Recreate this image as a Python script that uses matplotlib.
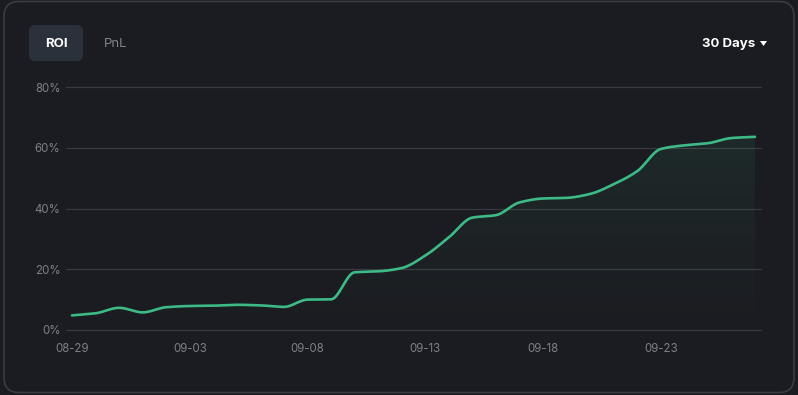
import matplotlib
matplotlib.use("Agg")
import matplotlib.pyplot as plt
from matplotlib.patches import FancyBboxPatch, Polygon
import numpy as np

plt.rcParams['font.family'] = ['Inter', 'DejaVu Sans']

# data (ROI %, one value per day)
dates = ['08-29', '08-30', '08-31', '09-01', '09-02', '09-03', '09-04', '09-05', '09-06', '09-07',
         '09-08', '09-09', '09-10', '09-11', '09-12', '09-13', '09-14', '09-15', '09-16', '09-17',
         '09-18', '09-19', '09-20', '09-21', '09-22', '09-23', '09-24', '09-25', '09-26', '09-27']
roi = [4.8, 5.5, 7.3, 5.8, 7.5, 7.9, 8.0, 8.3, 8.1, 7.6,
       10.0, 10.1, 19.0, 19.3, 20.4, 24.5, 30.5, 37.0, 37.8, 42.0,
       43.3, 43.5, 44.8, 48.0, 52.3, 59.6, 60.8, 61.5, 63.2, 63.6]
yticks = [0, 20, 40, 60, 80]
xtick_every = 5

BG = '#1b1c21'
LINE = '#3dba86'
GRID = '#383a41'
TICK = '#7c7f89'


def monotone(x, y, n=20):
    # monotone cubic (Fritsch-Carlson), like the smooth curve of the web chart
    x = np.asarray(x, float)
    y = np.asarray(y, float)
    h = np.diff(x)
    d = np.diff(y) / h
    m = np.zeros_like(y)
    m[0], m[-1] = d[0], d[-1]
    for i in range(1, len(y) - 1):
        if d[i - 1] * d[i] > 0:
            w1 = 2 * h[i] + h[i - 1]
            w2 = h[i] + 2 * h[i - 1]
            m[i] = (w1 + w2) / (w1 / d[i - 1] + w2 / d[i])
    xs, ys = [], []
    t = np.linspace(0, 1, n, endpoint=False)
    h00 = 2 * t**3 - 3 * t**2 + 1
    h10 = t**3 - 2 * t**2 + t
    h01 = -2 * t**3 + 3 * t**2
    h11 = t**3 - t**2
    for i in range(len(x) - 1):
        xs.append(x[i] + t * h[i])
        ys.append(h00 * y[i] + h10 * h[i] * m[i] + h01 * y[i + 1] + h11 * h[i] * m[i + 1])
    xs.append([x[-1]])
    ys.append([y[-1]])
    return np.concatenate(xs), np.concatenate(ys)


fig = plt.figure(figsize=(7.98, 3.95), dpi=100)
fig.patch.set_facecolor(BG)

# card + header controls, drawn in pixel coordinates
bg = fig.add_axes([0, 0, 1, 1])
bg.set_xlim(0, 798)
bg.set_ylim(395, 0)
bg.axis('off')
bg.add_patch(FancyBboxPatch((4, 1.5), 790, 391, boxstyle='round,pad=0,rounding_size=15',
                            facecolor=BG, edgecolor='#3b3c42', linewidth=1.2))
bg.add_patch(FancyBboxPatch((29, 25), 54, 36, boxstyle='round,pad=0,rounding_size=6',
                            facecolor='#2b313b', edgecolor='none'))
bg.text(56, 44, 'ROI', color='white', fontsize=9.5, fontweight='bold', ha='center', va='center')
bg.text(116, 44, 'PnL', color='#80838d', fontsize=9.5, ha='center', va='center')
bg.text(755, 44, '30 Days', color='white', fontsize=9.5, fontweight='bold', ha='right', va='center')
bg.add_patch(Polygon([[760, 41], [767, 41], [763.5, 46]], closed=True, facecolor='white', edgecolor='none'))

# main plot
ax = fig.add_axes([66 / 798, 1 - 332 / 395, 696 / 798, 247 / 395])
ax.set_facecolor('none')
x = np.arange(len(roi))
xs, ys = monotone(x, roi)

ax.set_xlim(-6 / 23.55, len(roi) - 1 + 7 / 23.55)
ax.set_ylim(-0.66, 80.66)

# faint gradient under the line
grad = np.linspace(0, 1, 256).reshape(-1, 1)
rgba = np.zeros((256, 1, 4))
rgba[..., 0], rgba[..., 1], rgba[..., 2] = 61 / 255, 186 / 255, 134 / 255
rgba[..., 3] = grad * 0.09
img = ax.imshow(rgba, extent=[xs[0], xs[-1], 0, max(roi)], origin='lower', aspect='auto', zorder=1)
poly = Polygon(np.column_stack([np.r_[xs, xs[-1], xs[0]], np.r_[ys, 0, 0]]), closed=True,
               facecolor='none', edgecolor='none')
ax.add_patch(poly)
img.set_clip_path(poly)

ax.plot(xs, ys, color=LINE, linewidth=1.9, zorder=3, solid_capstyle='round')

ax.set_yticks(yticks)
ax.set_yticklabels([f'{v}%' for v in yticks])
ax.set_xticks(x[::xtick_every])
ax.set_xticklabels(dates[::xtick_every])
ax.grid(axis='y', color=GRID, linewidth=0.9)
ax.set_axisbelow(True)
for s in ax.spines.values():
    s.set_visible(False)
ax.tick_params(length=0, colors=TICK, labelsize=8.3)
ax.tick_params(axis='y', pad=4)
ax.tick_params(axis='x', pad=8)

fig.savefig('out.png', dpi=100, facecolor=BG)
